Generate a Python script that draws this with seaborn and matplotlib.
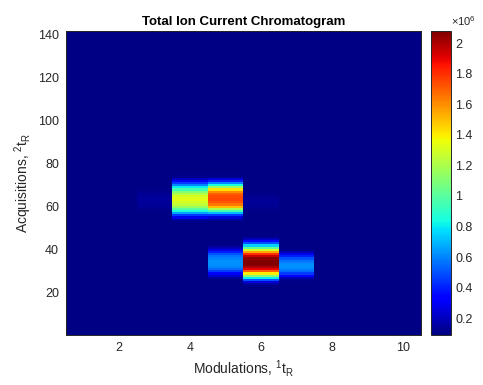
import numpy as np
import pandas as pd
import matplotlib
matplotlib.use("Agg")
import matplotlib.pyplot as plt
import seaborn as sns

# ---- data (values in units of 1e6) ----
modulations = [1, 2, 3, 4, 5, 6, 7, 8, 9, 10]
n_acq = 141
baseline = [0.098, 0.104, 0.103, 0.105, 0.105, 0.103, 0.101, 0.100, 0.099, 0.098]

# (modulation, first acquisition, values going upward)
col3_upper = [0.11, 0.12, 0.13, 0.135, 0.14, 0.14, 0.14, 0.135, 0.13, 0.12, 0.11]
col4_upper = [0.15, 0.28, 0.45, 0.65, 0.85, 1.0, 1.15, 1.25, 1.3, 1.33, 1.33,
              1.3, 1.22, 1.1, 0.95, 0.8, 0.6, 0.45, 0.3, 0.2, 0.12]
col5_upper = [0.14, 0.25, 0.45, 0.7, 0.95, 1.2, 1.5, 1.65, 1.72, 1.75, 1.75,
              1.74, 1.7, 1.6, 1.42, 1.15, 0.85, 0.6, 0.4, 0.25, 0.12]
col5_lower = [0.15, 0.22, 0.33, 0.45, 0.55, 0.6, 0.62, 0.62, 0.62, 0.6, 0.57,
              0.5, 0.4, 0.28, 0.18, 0.12]
col6_lower = [0.15, 0.25, 0.5, 0.8, 1.1, 1.4, 1.7, 1.9, 2.0, 2.07, 2.08, 2.07,
              2.05, 1.95, 1.8, 1.55, 1.3, 1.0, 0.75, 0.5, 0.35, 0.2, 0.12]
col6_upper = [0.11, 0.12, 0.125, 0.13, 0.13, 0.13, 0.125, 0.12, 0.11]
col7_lower = [0.12, 0.18, 0.3, 0.45, 0.55, 0.6, 0.62, 0.62, 0.6, 0.57, 0.5,
              0.4, 0.28, 0.18, 0.12]
segments = [
    (3, 58, col3_upper),
    (4, 54, col4_upper),
    (5, 54, col5_upper),
    (5, 27, col5_lower),
    (6, 24, col6_lower),
    (6, 58, col6_upper),
    (7, 26, col7_lower),
]

x_ticks = [2, 4, 6, 8, 10]
y_ticks = [20, 40, 60, 80, 100, 120, 140]
cbar_ticks = [0.2, 0.4, 0.6, 0.8, 1.0, 1.2, 1.4, 1.6, 1.8, 2.0]
vmin, vmax = 0.09, 2.08

# ---- build table ----
acq = np.arange(1, n_acq + 1)
Z = np.tile(np.array(baseline), (n_acq, 1))
for m, start, vals in segments:
    for k, v in enumerate(vals):
        Z[start - 1 + k, m - 1] = v
df = pd.DataFrame(Z, index=acq, columns=modulations)

# ---- plot ----
sns.set_style("white")
plt.rcParams['font.family'] = ['Liberation Sans', 'DejaVu Sans']
plt.rcParams['mathtext.default'] = 'regular'

fig = plt.figure(figsize=(4.83, 3.85), dpi=100)
ax = fig.add_axes([0.1366, 0.1299, 0.7350, 0.7896])
cax = fig.add_axes([0.8923, 0.1299, 0.0414, 0.7896])

sns.heatmap(df, ax=ax, cbar_ax=cax, cmap="jet", vmin=vmin, vmax=vmax,
            xticklabels=False, yticklabels=False,
            cbar_kws={"ticks": cbar_ticks})
ax.invert_yaxis()

tick_col = '#262626'
ax.set_xticks([m - 0.5 for m in x_ticks])
ax.set_xticklabels([str(t) for t in x_ticks], rotation=0)
ax.set_yticks([a - 0.5 for a in y_ticks])
ax.set_yticklabels([str(t) for t in y_ticks], rotation=0)
ax.tick_params(direction='in', length=3, width=0.6, top=True, right=True,
               bottom=True, left=True, labelsize=9, colors=tick_col,
               labelcolor=tick_col, pad=5)
for s in ax.spines.values():
    s.set_visible(True)
    s.set_color(tick_col)
    s.set_linewidth(0.7)

ax.set_xlabel('Modulations, $^1t_R$', fontsize=10, color=tick_col, labelpad=3)
ax.set_ylabel('Acquisitions, $^2t_R$', fontsize=10, color=tick_col, labelpad=3)
ax.set_title('Total Ion Current Chromatogram', fontsize=9.5, fontweight='bold',
             color='black', pad=4)

cb = ax.collections[0].colorbar
cb.outline.set_visible(True)
cb.outline.set_linewidth(0.7)
cb.outline.set_edgecolor(tick_col)
cb.set_ticks(cbar_ticks)
cb.set_ticklabels(['%g' % t for t in cbar_ticks])
cax.tick_params(direction='in', length=3, width=0.6, labelsize=9,
                colors=tick_col, labelcolor=tick_col, pad=3)
cax.text(1.0, 1.01, r'$\times10^{6}$', transform=cax.transAxes,
         fontsize=8, color=tick_col, ha='left', va='bottom')

fig.savefig('out.png', dpi=100)
